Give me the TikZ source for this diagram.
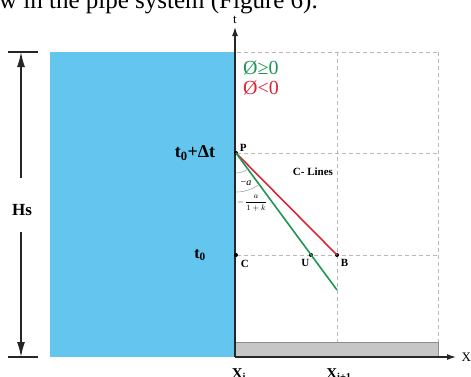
\documentclass[tikz,border=0pt]{standalone}
\usepackage{fontspec}
\setmainfont{Liberation Serif}
\usetikzlibrary{arrows.meta,positioning}
\definecolor{water}{RGB}{100,197,238}
\definecolor{posgreen}{RGB}{30,150,85}
\definecolor{negred}{RGB}{214,40,60}

\begin{document}
\begin{tikzpicture}[x=1pt, y=-1pt,
    node distance=1pt and 1pt,
    grid/.style={gray!55, line width=0.9pt, dash pattern=on 4pt off 3pt},
    axis/.style={-{Latex[length=9pt,width=6pt]}, line width=1.2pt, black!85},
    dim/.style={-{Latex[length=15pt,width=8pt]}, line width=1.5pt, black!85},
    dot/.style={circle, fill=black, inner sep=0pt, minimum size=4pt},
    lbl/.style={font=\bfseries\fontsize{11}{12}\selectfont, inner sep=1pt},
    big/.style={font=\bfseries\fontsize{18}{20}\selectfont, inner sep=0pt}
]
\useasboundingbox (0,0) rectangle (471,376);
\clip (0,0) rectangle (471,376);

\node[anchor=base east, inner sep=0pt, font=\fontsize{25}{28}\selectfont] (cap) at (318,8) {w in the pipe system (Figure 6).};

\fill[water] (50,52) rectangle (235,357);
\draw[black!45, fill=gray!45, line width=0.8pt] (235,342) rectangle (438,357);

\coordinate (O) at (235,357);
\coordinate (tt) at (235,27);
\coordinate (xx) at (456,357);

\draw[grid] (237,52) -- (438,52);
\draw[grid] (337,52) -- (337,342);
\draw[grid] (438,52) -- (438,342);
\draw[grid] (237,153) -- (438,153);
\draw[grid] (237,255) -- (438,255);

\draw[axis] (O) -- (tt);
\draw[axis] (O) -- (xx);
\node[font=\fontsize{13}{14}\selectfont, above=0pt of tt] (tlab) {t};
\node[font=\fontsize{13}{14}\selectfont, right=2pt of xx] (xlab) {X};

\node[dot] (P) at (236,153) {};
\node[dot] (C) at (236,255) {};
\node[dot] (U) at (311,255) {};
\node[dot] (B) at (337,255) {};
\coordinate (G) at (337,290);

\draw[negred, line width=1.6pt] (P.center) -- (B.center);
\draw[posgreen, line width=1.6pt] (P.center) -- (G);

\draw[gray!70, line width=0.6pt] (P.center) ++(0,20) arc[start angle=-90, end angle=-54, radius=20pt];
\draw[gray!70, line width=0.6pt] (P.center) ++(0,39) arc[start angle=-90, end angle=-54, radius=39pt];
\node[font=\fontsize{10}{11}\selectfont, inner sep=0pt] (am) at (246,183) {−\textit{a}};
\node[font=\fontsize{8}{9}\selectfont, inner sep=0pt] (af) at (252,203) {$\displaystyle -\,\frac{a}{1+k}$};

\node[lbl, above right=-1pt and 1pt of P] (Pl) {P};
\node[lbl, below right=2pt and 2pt of C] (Cl) {C};
\node[lbl, below left=2pt and -1pt of U] (Ul) {U};
\node[lbl, below right=2pt and 1pt of B] (Bl) {B};
\node[lbl] (cl) at (313,172) {C- Lines};

\node[anchor=west, text=posgreen, inner sep=0pt, font=\fontsize{20}{22}\selectfont] (leg1) at (243,68) {Ø≥0};
\node[anchor=west, text=negred, inner sep=0pt, font=\fontsize{20}{22}\selectfont] (leg2) at (243,88) {Ø<0};

\node[big] (t1) at (195,153) {t\textsubscript{0}+Δt};
\node[big, font=\bfseries\fontsize{16}{18}\selectfont] (t0) at (200,255) {t\textsubscript{0}};

\coordinate (h1) at (21,52);
\coordinate (h2) at (21,357);
\draw[line width=1.5pt, black!85] (8,52) -- (38,52);
\draw[line width=1.5pt, black!85] (8,357) -- (38,357);
\node[big, font=\bfseries\fontsize{17}{19}\selectfont] (hs) at (22,210) {Hs};
\draw[dim] (21,178) -- (h1);
\draw[dim] (21,232) -- (h2);

\node[anchor=base, font=\bfseries\fontsize{15}{16}\selectfont, inner sep=0pt] (xi) at (239,378) {X\textsubscript{i}};
\node[anchor=base, font=\bfseries\fontsize{15}{16}\selectfont, inner sep=0pt] (xi1) at (339,378) {X\textsubscript{i+1}};
\end{tikzpicture}
\end{document}
